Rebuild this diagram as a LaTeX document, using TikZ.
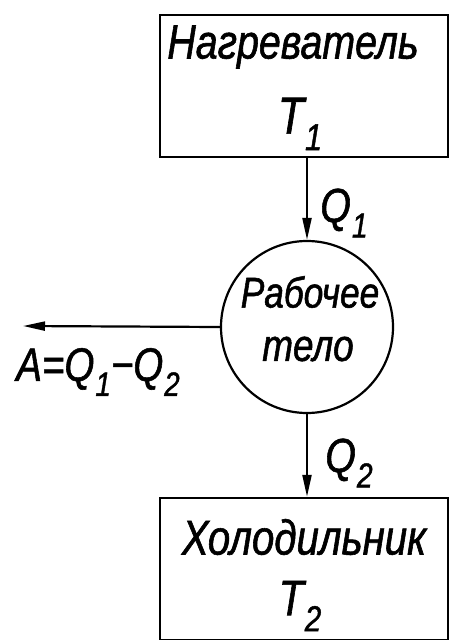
\documentclass[tikz,border=0pt]{standalone}
\usepackage{fontspec}
\setmainfont{Liberation Sans}
\newfontfamily\gost{Liberation Sans}[FakeStretch=0.82,FakeBold=1.2]
\usetikzlibrary{arrows.meta}
\newcommand{\lidx}[1]{\kern0.02em\raisebox{-0.32em}{\scalebox{0.72}{#1}}}
\tikzset{
  boxstyle/.style={draw, line width=2.4pt, minimum width=288pt, inner sep=0pt},
  bodystyle/.style={draw, circle, line width=2.2pt, minimum size=172pt, inner sep=0pt},
  lbl/.style={inner sep=0pt, font=\gost\itshape},
  arr/.style={line width=2.2pt, -{Triangle[length=22pt,width=9pt]}}
}
\begin{document}
\begin{tikzpicture}[x=1pt,y=-1pt]
\useasboundingbox (0,0) rectangle (454,640);
\fill[white] (0,0) rectangle (454,640);
\node[boxstyle, minimum height=142pt] (heater) at (304,86) {};
\node[lbl, font=\gost\itshape\fontsize{48}{52}\selectfont] (heatername) at (293,47) {Нагреватель};
\node[lbl, font=\gost\itshape\fontsize{52}{56}\selectfont] (heatert) at (300,124) {T\lidx{1}};
\node[bodystyle] (body) at (307,327) {};
\node[lbl, font=\gost\itshape\fontsize{43}{46}\selectfont] (bodyname) at (310,292) {Рабочее};
\node[lbl, font=\gost\itshape\fontsize{45}{48}\selectfont] (bodyname2) at (308,349) {тело};
\node[boxstyle, minimum height=142pt] (cooler) at (304,569) {};
\node[lbl, font=\gost\itshape\fontsize{49}{53}\selectfont] (coolername) at (304,537) {Холодильник};
\node[lbl, font=\gost\itshape\fontsize{50}{54}\selectfont] (coolert) at (300,606) {T\lidx{2}};
\coordinate (workend) at (23,326);
\draw[arr] (body.north |- heater.south) -- (body.north);
\draw[arr] (body.south) -- (body.south |- cooler.north);
\draw[arr] (body.west) -- (workend);
\node[lbl, font=\gost\itshape\fontsize{48}{52}\selectfont] (q1) at (344,213) {Q\lidx{1}};
\node[lbl, font=\gost\itshape\fontsize{48}{52}\selectfont] (q2) at (349,463) {Q\lidx{2}};
\node[lbl, font=\gost\itshape\fontsize{47}{50}\selectfont] (work) at (98,372) {A=Q\lidx{1}−Q\lidx{2}};
\end{tikzpicture}
\end{document}
